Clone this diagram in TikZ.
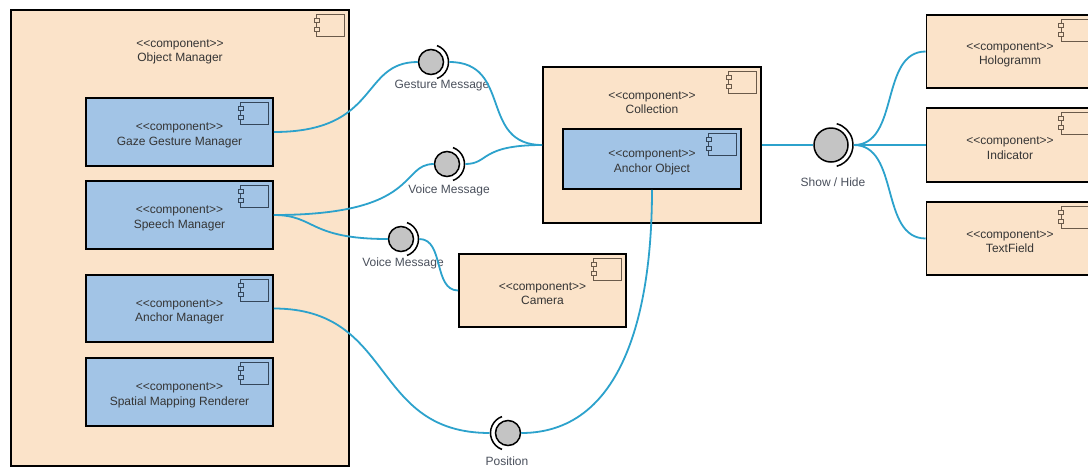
\documentclass[tikz,border=0pt]{standalone}
\usepackage{fontspec}
\newfontfamily\lsans{Liberation Sans}
\definecolor{peach}{HTML}{FBE3C9}
\definecolor{bluef}{HTML}{A2C4E6}
\definecolor{wire}{HTML}{2CA2CC}
\definecolor{ballg}{HTML}{C4C4C4}
\definecolor{txt}{HTML}{353535}
\definecolor{lbltxt}{HTML}{4A505C}
\definecolor{iconp}{HTML}{6A5A4A}
\definecolor{iconb}{HTML}{34465A}
\newcommand{\tstrut}{\rule{0pt}{14.5pt}}
\tikzset{
  pics/picon/.style={code={
    \draw[line width=1.1pt, draw=iconp] (-28,0) rectangle (0,-22);
    \draw[line width=1.1pt, draw=iconp, fill=peach] (-30.5,-4) rectangle (-25.5,-8.5);
    \draw[line width=1.1pt, draw=iconp, fill=peach] (-30.5,-13) rectangle (-25.5,-17.5);
  }},
  pics/bicon/.style={code={
    \draw[line width=1.1pt, draw=iconb] (-28,0) rectangle (0,-22);
    \draw[line width=1.1pt, draw=iconb, fill=bluef] (-30.5,-4) rectangle (-25.5,-8.5);
    \draw[line width=1.1pt, draw=iconb, fill=bluef] (-30.5,-13) rectangle (-25.5,-17.5);
  }}
}
\begin{document}
\begin{tikzpicture}[x=1pt,y=1pt,
  comp/.style={draw=black, line width=1.6pt, rectangle, inner sep=0pt, align=center,
    text=txt, font=\lsans\fontsize{12}{14.5}\selectfont},
  peachbox/.style={comp, fill=peach},
  bluebox/.style={comp, fill=bluef},
  ctext/.style={align=center, inner sep=0pt, text=txt, font=\lsans\fontsize{12}{14.5}\selectfont},
  ball/.style={circle, draw=black, line width=1.5pt, fill=ballg, minimum size=25pt, inner sep=0pt},
  bigball/.style={ball, minimum size=34pt},
  sock/.style={draw=black, line width=1.5pt},
  conn/.style={draw=wire, line width=1.8pt},
  lbl/.style={inner sep=0pt, text=lbltxt, font=\lsans\fontsize{12}{14.5}\selectfont}
]
\clip (0,0) rectangle (1088,-467);
\fill[white] (0,0) rectangle (1088,-467);

% Object Manager container
\node[peachbox, minimum width=338pt, minimum height=456pt] (om) at (180,-238) {};
\pic at ([xshift=-5pt,yshift=-5pt]om.north east) {picon};
\node[ctext] (omt) at (180,-52) {<{}<component>{}>\\Object Manager};

\node[bluebox, minimum width=187pt, minimum height=68pt] (gaze) at (179.5,-132) {\tstrut<{}<component>{}>\\Gaze Gesture Manager};
\pic at ([xshift=-5pt,yshift=-5pt]gaze.north east) {bicon};
\node[bluebox, minimum width=187pt, minimum height=68pt] (speech) at (179.5,-215) {\tstrut<{}<component>{}>\\Speech Manager};
\pic at ([xshift=-5pt,yshift=-5pt]speech.north east) {bicon};
\node[bluebox, minimum width=187pt, minimum height=67pt] (anchm) at (179.5,-308.5) {\tstrut<{}<component>{}>\\Anchor Manager};
\pic at ([xshift=-5pt,yshift=-5pt]anchm.north east) {bicon};
\node[bluebox, minimum width=187pt, minimum height=68pt] (spat) at (179.5,-392) {\tstrut<{}<component>{}>\\Spatial Mapping Renderer};
\pic at ([xshift=-5pt,yshift=-5pt]spat.north east) {bicon};

% Collection container
\node[peachbox, minimum width=218pt, minimum height=156pt] (coll) at (652,-145) {};
\pic at ([xshift=-5pt,yshift=-5pt]coll.north east) {picon};
\node[ctext] (collt) at (652,-102.5) {<{}<component>{}>\\Collection};
\node[bluebox, minimum width=178pt, minimum height=60pt] (anco) at (652,-159) {\tstrut<{}<component>{}>\\Anchor Object};
\pic at ([xshift=-5pt,yshift=-5pt]anco.north east) {bicon};

% Camera
\node[peachbox, minimum width=167pt, minimum height=73pt] (cam) at (542.5,-290.5) {\tstrut<{}<component>{}>\\Camera};
\pic at ([xshift=-5pt,yshift=-5pt]cam.north east) {picon};

% Right components
\node[peachbox, minimum width=167pt, minimum height=73pt] (holo) at (1010,-51.5) {\tstrut<{}<component>{}>\\Hologramm};
\pic at ([xshift=-5pt,yshift=-5pt]holo.north east) {picon};
\node[peachbox, minimum width=167pt, minimum height=74pt] (ind) at (1010,-145) {\tstrut<{}<component>{}>\\Indicator};
\pic at ([xshift=-5pt,yshift=-5pt]ind.north east) {picon};
\node[peachbox, minimum width=167pt, minimum height=73pt] (tf) at (1010,-238.5) {\tstrut<{}<component>{}>\\TextField};
\pic at ([xshift=-5pt,yshift=-5pt]tf.north east) {picon};

% Interface balls
\node[ball] (gm) at (431,-62) {};
\node[ball] (vm1) at (447,-164) {};
\node[ball] (vm2) at (401,-239) {};
\node[ball] (pos) at (508,-433) {};
\node[bigball] (sh) at (831,-145) {};

\draw[sock] (gm.center) ++(-70:17.5) arc[start angle=-70, end angle=70, radius=17.5];
\draw[sock] (vm1.center) ++(-70:17.5) arc[start angle=-70, end angle=70, radius=17.5];
\draw[sock] (vm2.center) ++(-70:17.5) arc[start angle=-70, end angle=70, radius=17.5];
\draw[sock] (pos.center) ++(110:17.5) arc[start angle=110, end angle=250, radius=17.5];
\draw[sock] (sh.center) ++(-75:22) arc[start angle=-75, end angle=75, radius=22];

\coordinate (gmS) at ([xshift=18.3pt]gm.center);
\coordinate (vm1S) at ([xshift=18.3pt]vm1.center);
\coordinate (vm2S) at ([xshift=18.3pt]vm2.center);
\coordinate (posS) at ([xshift=-18.3pt]pos.center);
\coordinate (shS) at ([xshift=22.8pt]sh.center);

% Labels
\node[lbl] (gml) at (442,-86) {Gesture Message};
\node[lbl] (vm1l) at (449,-190) {Voice Message};
\node[lbl] (vm2l) at (403,-263) {Voice Message};
\node[lbl] (posl) at (507,-461) {Position};
\node[lbl] (shl) at (833,-182) {Show / Hide};

% Connectors
\draw[conn] (gaze.east) .. controls +(107,0) and +(-58,0) .. (gm.west);
\draw[conn] (gmS) to[out=0,in=180,looseness=1.3] (coll.west);
\draw[conn] (speech.east) .. controls +(147,0) and +(-34,0) .. (vm1.west);
\draw[conn] (vm1S) .. controls +(24,0) and +(-63,0) .. (coll.west);
\draw[conn] (speech.east) .. controls +(42,0) and +(-80,0) .. (vm2.west);
\draw[conn] (vm2S) to[out=0,in=180] (cam.west);
\draw[conn] (anchm.east) .. controls +(122,0) and +(-120,0) .. (posS);
\draw[conn] (pos.east) to[out=0,in=-90] (anco.south);
\draw[conn] (coll.east) -- (sh.west);
\draw[conn] (shS) to[out=0,in=180] (holo.west);
\draw[conn] (shS) -- (ind.west);
\draw[conn] (shS) to[out=0,in=180] (tf.west);
\end{tikzpicture}
\end{document}
